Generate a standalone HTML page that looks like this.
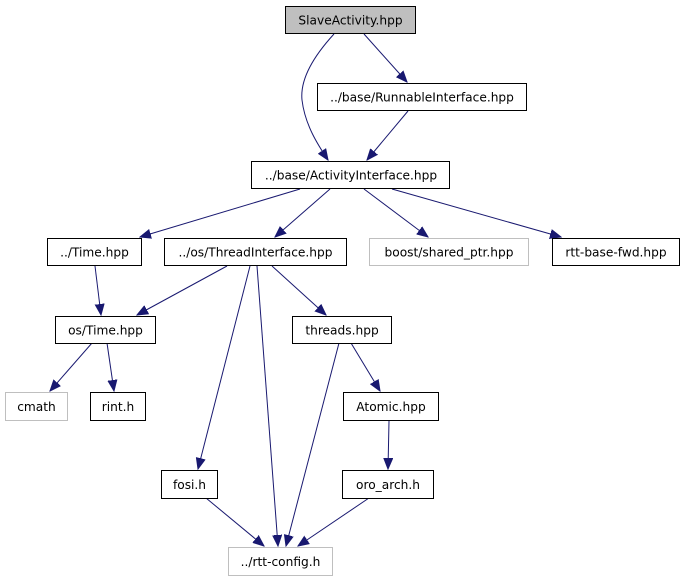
<!DOCTYPE html>
<html><head><meta charset="utf-8"><style>
html,body{margin:0;padding:0;background:#fff;}
svg{display:block;}
text{font-family:"DejaVu Sans","Liberation Sans",sans-serif;font-size:12.2px;text-anchor:middle;fill:#000;}
</style></head><body>
<svg width="681" height="581" viewBox="0 0 681 581" xmlns="http://www.w3.org/2000/svg">
<defs>
<marker id="a" markerUnits="userSpaceOnUse" markerWidth="12" markerHeight="10" refX="11" refY="5" orient="auto">
<path d="M0,0.5 L11,5 L0,9.5 Z" fill="#191970" stroke="#191970"/>
</marker>
</defs>
<g stroke="#191970" stroke-width="1" fill="none" marker-end="url(#a)">
<path d="M334,34 C312,58 300,80 302,100 C305,125 318,145 328,160"/>
<path d="M364,34 L407,82"/>
<path d="M408,111 L367,160"/>
<path d="M300,189 L140,237"/>
<path d="M330,189 L275,237"/>
<path d="M364,189 L428,237"/>
<path d="M392,189 L561,237"/>
<path d="M95,266 L101,315"/>
<path d="M227,266 L137,315"/>
<path d="M250,266 L198,469"/>
<path d="M257,266 L278,546"/>
<path d="M272,266 L326,315"/>
<path d="M92,343 L50,391"/>
<path d="M107,343 L114,391"/>
<path d="M339,343 L286,546"/>
<path d="M351,343 L380,391"/>
<path d="M389,421 L388,469"/>
<path d="M206,498 L264,546"/>
<path d="M369,498 L298,546"/>
</g>
<g stroke-width="1">
<rect x="285.5" y="6.5" width="130" height="27" fill="#bfbfbf" stroke="#000"/>
<rect x="317.5" y="83.5" width="209" height="27" fill="#fff" stroke="#000"/>
<rect x="251.5" y="161.5" width="198" height="27" fill="#fff" stroke="#000"/>
<rect x="47.5" y="238.5" width="94" height="27" fill="#fff" stroke="#000"/>
<rect x="164.5" y="238.5" width="182" height="27" fill="#fff" stroke="#000"/>
<rect x="369.5" y="238.5" width="159" height="27" fill="#fff" stroke="#bfbfbf"/>
<rect x="552.5" y="238.5" width="127" height="27" fill="#fff" stroke="#000"/>
<rect x="55.5" y="316.5" width="100" height="27" fill="#fff" stroke="#000"/>
<rect x="292.5" y="316.5" width="99" height="27" fill="#fff" stroke="#000"/>
<rect x="5.5" y="392.5" width="62" height="28" fill="#fff" stroke="#bfbfbf"/>
<rect x="90.5" y="392.5" width="55" height="28" fill="#fff" stroke="#000"/>
<rect x="343.5" y="392.5" width="95" height="28" fill="#fff" stroke="#000"/>
<rect x="161.5" y="470.5" width="56" height="28" fill="#fff" stroke="#000"/>
<rect x="342.5" y="470.5" width="91" height="28" fill="#fff" stroke="#000"/>
<rect x="228.5" y="547.5" width="104" height="28" fill="#fff" stroke="#bfbfbf"/>
</g>
<text x="350.5" y="24.5">SlaveActivity.hpp</text>
<text x="422" y="101.5">../base/RunnableInterface.hpp</text>
<text x="351" y="179.5">../base/ActivityInterface.hpp</text>
<text x="94.5" y="256.5">../Time.hpp</text>
<text x="255.5" y="256.5">../os/ThreadInterface.hpp</text>
<text x="449" y="256.5">boost/shared_ptr.hpp</text>
<text x="616" y="256.5">rtt-base-fwd.hpp</text>
<text x="105.5" y="334.5">os/Time.hpp</text>
<text x="342" y="334.5">threads.hpp</text>
<text x="36.5" y="411">cmath</text>
<text x="118" y="411">rint.h</text>
<text x="391" y="411">Atomic.hpp</text>
<text x="189.5" y="489">fosi.h</text>
<text x="388" y="489">oro_arch.h</text>
<text x="280.5" y="566">../rtt-config.h</text>
</svg>
</body></html>
